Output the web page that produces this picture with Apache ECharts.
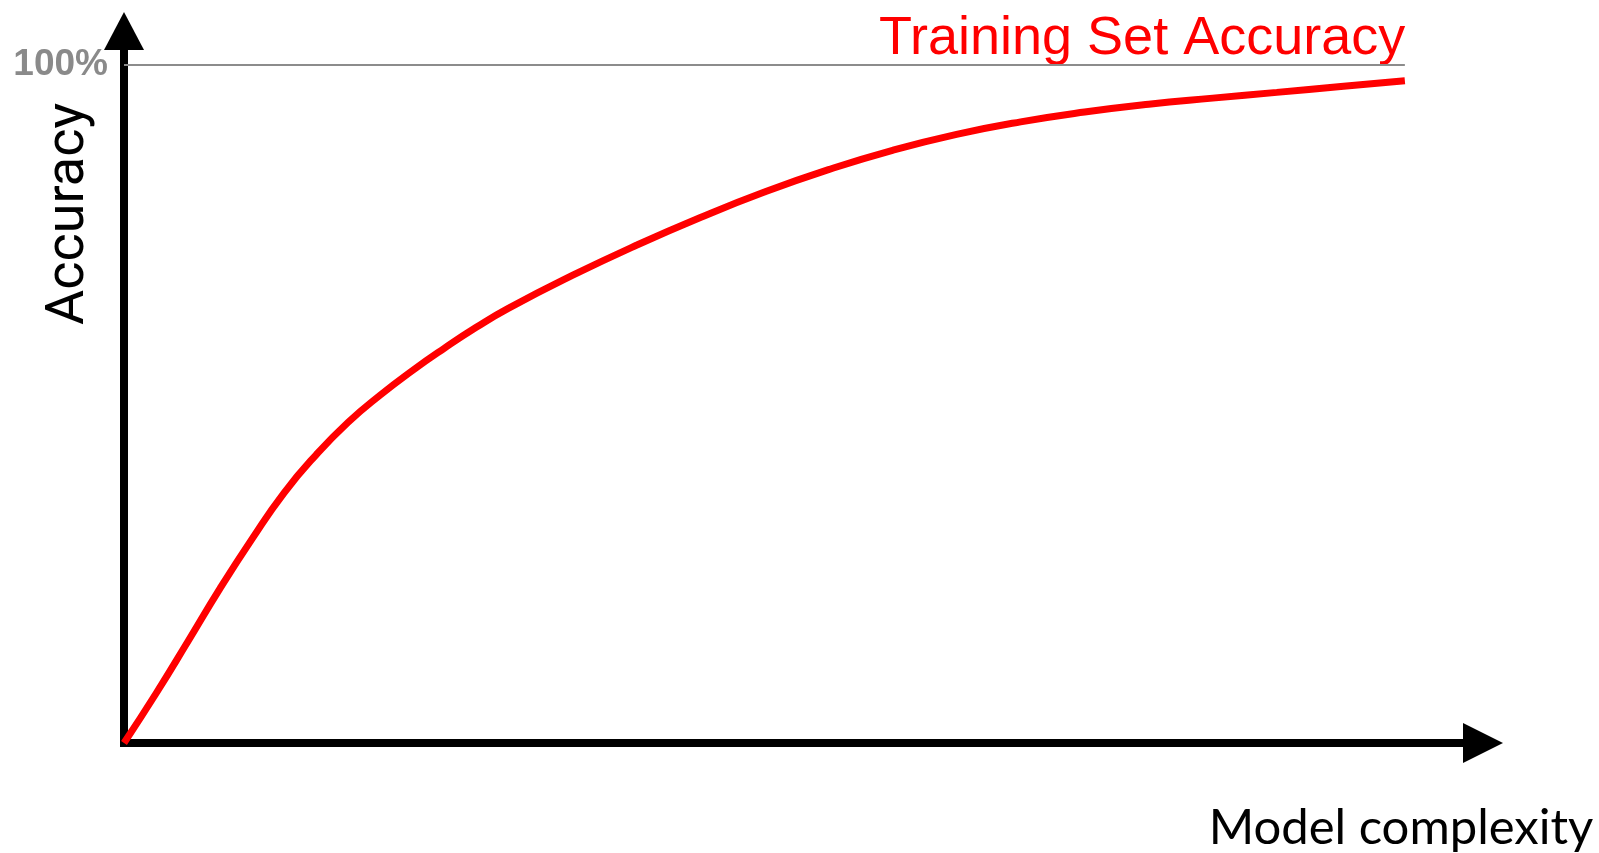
<!DOCTYPE html>
<html>
<head>
<meta charset="utf-8">
<script src="https://cdn.jsdelivr.net/npm/echarts@6/dist/echarts.min.js"></script>
<style>
html,body{margin:0;padding:0;background:#fff;}
#chart{width:1599px;height:853px;}
</style>
</head>
<body>
<div id="chart"></div>
<script>
const complexity = [0, 2.5, 5, 7.5, 10, 12.5, 15, 17.5, 20, 22.5, 25, 27.5, 30, 35, 40, 45, 50, 55, 60, 65, 70, 75, 80, 85, 90, 95, 100];
const accuracy = [0, 7.3, 15.0, 22.8, 30.1, 36.9, 42.5, 47.3, 51.3, 54.9, 58.2, 61.3, 64.1, 68.95, 73.4, 77.5, 81.25, 84.55, 87.4, 89.75, 91.6, 93.05, 94.2, 95.1, 95.95, 96.8, 97.65];
const fullMark = 100;
const yTickLabel = '100%';
const seriesName = 'Training Set Accuracy';
const xTitle = 'Model complexity';
const yTitle = 'Accuracy';

const chart = echarts.init(document.getElementById('chart'), null, {renderer: 'canvas'});
const points = complexity.map((x, i) => [x, accuracy[i]]);

chart.setOption({
  animation: false,
  backgroundColor: '#ffffff',
  grid: {left: 124, right: 116, top: 31, bottom: 110, containLabel: false},
  xAxis: {
    type: 'value', min: 0, max: 106.1,
    axisLine: {show: true, symbol: ['none', 'triangle'], symbolSize: [40, 40],
      lineStyle: {color: '#000', width: 8, cap: 'square'}},
    axisTick: {show: false}, axisLabel: {show: false}, splitLine: {show: false}
  },
  yAxis: {
    type: 'value', min: 0, max: 105, interval: 100,
    axisLine: {show: true, symbol: ['none', 'triangle'], symbolSize: [40, 38],
      lineStyle: {color: '#000', width: 8, cap: 'square'}},
    axisTick: {show: false},
    axisLabel: {show: true, margin: 16, color: '#8a8a8a', fontFamily: 'Liberation Sans',
      fontWeight: 'bold', fontSize: 37,
      formatter: v => (v === fullMark ? yTickLabel : '')},
    splitLine: {show: false}
  },
  series: [{
    name: seriesName,
    type: 'line',
    smooth: 0.5,
    showSymbol: false,
    lineStyle: {color: '#ff0000', width: 7},
    data: points,
    markLine: {
      silent: true, symbol: ['none', 'none'],
      label: {show: false},
      lineStyle: {color: '#8c8c8c', width: 2, type: 'solid'},
      data: [[{coord: [0, fullMark]}, {coord: [complexity[complexity.length - 1], fullMark]}]]
    }
  }],
  graphic: [
    {type: 'text', left: 879, top: 12, style: {text: seriesName, fill: '#ff0000',
      font: '54px "Liberation Sans"'}},
    {type: 'text', x: 1401, y: 828, style: {text: xTitle, fill: '#000',
      font: '49px Lato', align: 'center', verticalAlign: 'middle'}},
    {type: 'text', x: 69, y: 214, rotation: Math.PI / 2, style: {text: yTitle, fill: '#000',
      font: '54px Roboto', align: 'center', verticalAlign: 'middle'}}
  ]
});
</script>
</body>
</html>
